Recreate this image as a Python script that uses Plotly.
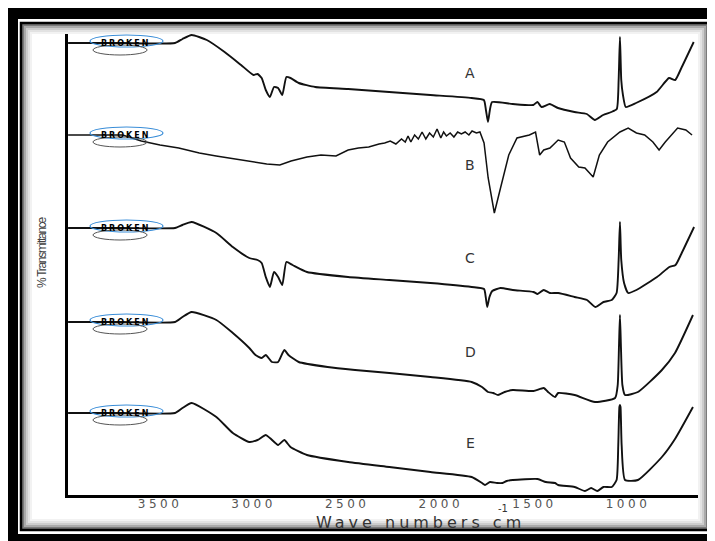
import plotly.graph_objects as go

# ---------------- data (wavenumber cm^-1, % transmittance in stacked plot units) ----------------
A_wn = [3991, 3700, 3420, 3380, 3331, 3250, 3155, 3067, 3001, 2979, 2957, 2935, 2913, 2891, 2869,
        2847, 2825, 2803, 2759, 2671, 2495, 2276, 2056, 1836, 1770, 1759, 1748, 1737, 1726, 1616,
        1506, 1484, 1462, 1418, 1374, 1286, 1220, 1177, 1133, 1089, 1060, 1050, 1043, 1036, 1027,
        1012, 957, 847, 781, 748, 715, 649]
A_t = [452, 452, 452, 456, 460, 455, 443, 430, 420, 421, 417, 405, 398, 408, 407,
       400, 418, 417, 412, 408, 406, 403, 400, 397, 395, 385, 373, 386, 393, 391,
       390, 393, 388, 391, 387, 383, 381, 375, 380, 383, 386, 415, 458, 415, 400,
       388, 392, 403, 417, 415, 427, 453]

B_wn = [3991, 3700, 3600, 3500, 3400, 3290, 3200, 3100, 3000, 2930, 2860, 2800, 2715, 2640, 2560,
        2495, 2440, 2385, 2330, 2300, 2270, 2240, 2210, 2190, 2175, 2160, 2140, 2120, 2100, 2080,
        2060, 2040, 2020, 2000, 1985, 1970, 1950, 1930, 1910, 1890, 1870, 1850, 1833, 1810, 1791,
        1769, 1747, 1714, 1681, 1637, 1593, 1527, 1494, 1472, 1450, 1417, 1373, 1340, 1307, 1263,
        1230, 1186, 1153, 1109, 1043, 999, 955, 911, 867, 834, 801, 735, 691, 658]
B_t = [360, 360, 354, 350, 347, 342, 339, 336, 333, 331, 330, 334, 338, 340, 339,
       345, 347, 348, 351, 352, 354, 351, 356, 353, 359, 353, 360, 356, 363, 356,
       362, 358, 366, 357, 363, 359, 362, 358, 363, 361, 363, 360, 364, 362, 363,
       352, 317, 282, 307, 340, 357, 360, 363, 340, 345, 347, 355, 353, 337, 328,
       327, 318, 340, 353, 363, 367, 362, 360, 353, 345, 353, 367, 365, 360]

C_wn = [3991, 3700, 3420, 3380, 3331, 3199, 3111, 3023, 2979, 2957, 2935, 2913, 2891, 2869, 2847,
        2825, 2792, 2715, 2495, 2275, 2055, 1835, 1769, 1760, 1752, 1740, 1725, 1681, 1615, 1505,
        1483, 1450, 1417, 1373, 1285, 1219, 1175, 1131, 1087, 1061, 1050, 1043, 1036, 1021, 999,
        955, 845, 779, 746, 713, 647]
C_t = [267, 267, 267, 270, 273, 262, 248, 237, 235, 232, 218, 208, 223, 218, 210,
       233, 230, 223, 218, 215, 212, 208, 206, 198, 188, 198, 204, 207, 205, 203,
       201, 205, 202, 202, 198, 195, 188, 193, 195, 202, 235, 273, 235, 212, 202,
       205, 218, 228, 230, 242, 268]

D_wn = [3991, 3700, 3420, 3380, 3331, 3199, 3111, 3023, 2990, 2957, 2935, 2902, 2869, 2836, 2814,
        2759, 2605, 2458, 2275, 2055, 1835, 1780, 1748, 1720, 1694, 1659, 1615, 1505, 1450, 1427,
        1390, 1373, 1285, 1176, 1069, 1055, 1048, 1043, 1038, 1030, 1016, 947, 819, 749, 653]
D_t = [173, 173, 173, 178, 183, 175, 162, 147, 140, 137, 140, 133, 133, 145, 140,
       133, 128, 125, 122, 118, 113, 108, 103, 102, 100, 103, 105, 104, 107, 103,
       98, 102, 100, 93, 97, 110, 150, 180, 150, 110, 100, 103, 125, 142, 180]

E_wn = [3991, 3700, 3420, 3380, 3331, 3199, 3111, 3023, 2979, 2935, 2913, 2869, 2836, 2803, 2715,
        2495, 2275, 2055, 1835, 1780, 1764, 1737, 1700, 1670, 1648, 1615, 1483, 1439, 1390, 1373,
        1285, 1230, 1197, 1164, 1131, 1087, 1061, 1052, 1046, 1043, 1040, 1034, 1016, 947, 819,
        749, 653]
E_t = [82, 82, 82, 87, 92, 78, 62, 53, 55, 60, 57, 50, 55, 48, 40,
       33, 28, 23, 18, 12, 10, 13, 12, 12, 14, 15, 16, 13, 12, 10,
       8, 4, 7, 4, 8, 8, 15, 50, 88, 90, 88, 50, 15, 15, 38,
       56, 88]

series_names = ["A", "B", "C", "D", "E"]
series_wn = [A_wn, B_wn, C_wn, D_wn, E_wn]
series_t = [A_t, B_t, C_t, D_t, E_t]

tick_vals = [3500, 3000, 2500, 2000, 1500, 1000]
tick_labels = ["3500", "3000", "2500", "2000", "1500", "1000"]

# ---------------- layout geometry ----------------
# the page body has an 8px margin, so the figure is 8px smaller than the window
OFF = 8
W, H = 715 - OFF, 541 - OFF
ML, MR, MT, MB = 60, 15, 24, 46
PW, PH = W - ML - MR, H - MT - MB


def px(sx):
    """screen x (window pixels) -> paper fraction"""
    return (sx - OFF - ML) / PW


def py(sy):
    """screen y (window pixels) -> paper fraction"""
    return (H - MB - (sy - OFF)) / PH


fig = go.Figure()

for name, wn, t in zip(series_names, series_wn, series_t):
    noisy = name == "B"
    fig.add_trace(go.Scatter(
        x=wn, y=t, mode="lines", name=name, showlegend=False, hoverinfo="skip",
        line=dict(color="#111111", width=1.5 if noisy else 1.9,
                  shape="linear" if noisy else "spline", smoothing=0.5),
    ))

shapes = []
annotations = []
CM = dict(xanchor="center", yanchor="middle", showarrow=False)

# "broken" axis marks at the start of each spectrum, labels A-E
for name, t in zip(series_names, series_t):
    lvl = t[0]
    shapes.append(dict(type="circle", xref="x", yref="y", x0=3874, x1=3484,
                       y0=lvl - 4, y1=lvl + 8, line=dict(color="#3b8ed8", width=1.2)))
    shapes.append(dict(type="circle", xref="x", yref="y", x0=3858, x1=3569,
                       y0=lvl - 12, y1=lvl - 2, line=dict(color="#555555", width=1)))
    annotations.append(dict(x=3687, y=lvl, xref="x", yref="y", **CM,
                            text='<span style="letter-spacing:2px"><b>BROKEN</b></span>',
                            font=dict(family="DejaVu Sans", size=8, color="#000000")))
    annotations.append(dict(x=1844, y=lvl - 30, xref="x", yref="y", **CM,
                            text=name, font=dict(family="DejaVu Sans", size=14, color="#333333")))

# right axis line
shapes.append(dict(type="line", xref="paper", yref="paper", x0=1, x1=1, y0=0, y1=1,
                   line=dict(color="black", width=3)))


# picture frame: thick black bands, thin frame line, inner grey shadow
def rect(x0, y0, x1, y1, **kw):
    return dict(type="rect", xref="paper", yref="paper", x0=px(x0), x1=px(x1),
                y0=py(y1), y1=py(y0), layer="above", **kw)


shapes.append(rect(8, 8, 715, 19, fillcolor="black", line=dict(width=0)))
shapes.append(rect(8, 8, 18, 541, fillcolor="black", line=dict(width=0)))
shapes.append(rect(8, 534, 715, 541, fillcolor="black", line=dict(width=0)))
for inset, col in [(10, "#f2f2f2"), (8, "#e2e2e2"), (6, "#cccccc"), (4, "#aaaaaa"), (2, "#7a7a7a")]:
    shapes.append(rect(21 + inset, 23 + inset, 709 - inset, 530 - inset,
                       line=dict(color=col, width=2)))
shapes.append(rect(21, 23, 709, 530, line=dict(color="black", width=2.5)))

# axis titles
annotations.append(dict(x=px(420), y=py(522), xref="paper", yref="paper", **CM,
                        text='<span style="letter-spacing:4px">Wave numbers cm</span>',
                        font=dict(family="DejaVu Sans", size=16, color="#333333")))
annotations.append(dict(x=px(503), y=py(508), xref="paper", yref="paper", **CM,
                        text="-1", font=dict(family="DejaVu Sans", size=10, color="#333333")))
annotations.append(dict(x=px(42), y=py(253), xref="paper", yref="paper", **CM,
                        textangle=-90,
                        text='<span style="letter-spacing:-1.3px">% Transmittance</span>',
                        font=dict(family="Liberation Sans Narrow, Arial Narrow, Liberation Sans",
                                  size=12, color="#444444")))

fig.update_layout(
    width=W, height=H, autosize=False,
    margin=dict(l=ML, r=MR, t=MT, b=MB, pad=0),
    paper_bgcolor="white", plot_bgcolor="white",
    shapes=shapes, annotations=annotations,
    xaxis=dict(range=[3991.5, 615.4], showgrid=False, zeroline=False, showline=True,
               linewidth=3, linecolor="black", ticks="", ticklabelstandoff=-4,
               tickvals=tick_vals,
               ticktext=['<span style="letter-spacing:3.5px">%s</span>' % s for s in tick_labels],
               tickfont=dict(family="DejaVu Sans", size=12, color="#555555")),
    yaxis=dict(range=[0, 463], showgrid=False, zeroline=False, showline=True,
               linewidth=3, linecolor="black", ticks="", showticklabels=False),
)

fig.write_html("out.html", config={"displayModeBar": False})
